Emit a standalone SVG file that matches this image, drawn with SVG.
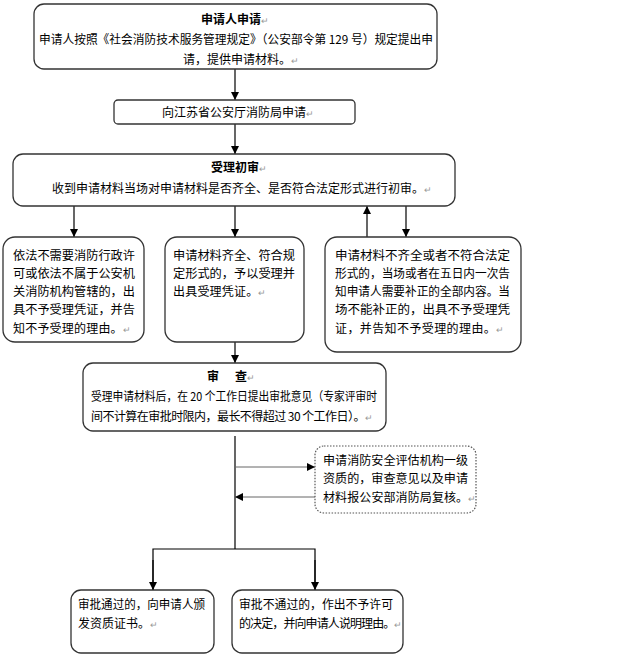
<svg xmlns="http://www.w3.org/2000/svg" width="622" height="663" viewBox="0 0 622 663">
<defs>
<marker id="ah" viewBox="0 0 10 10" refX="10" refY="5" markerWidth="8" markerHeight="8" markerUnits="userSpaceOnUse" orient="auto">
<path d="M0,0 L10,5 L0,10 z" fill="#000"/>
</marker>
</defs>
<style>
.box{fill:#fff;stroke:#333;stroke-width:1.3}
.dot{fill:#fff;stroke:#555;stroke-width:1.2;stroke-dasharray:1.5 1.5}
text{font-family:"Noto Sans CJK SC","Noto Sans",sans-serif;font-size:12px;fill:#000}
.b{font-weight:bold}
.m{fill:#999;font-size:9px}
.c{text-anchor:middle}
.ln{stroke:#000;stroke-width:1.2;fill:none}
.lg{stroke:#666;stroke-width:1;fill:none}
</style>
<rect width="622" height="663" fill="#fff"/>
<g id="connectors">
<line class="ln" x1="235" y1="69" x2="235" y2="100" marker-end="url(#ah)"/>
<line class="ln" x1="235" y1="124" x2="235" y2="154" marker-end="url(#ah)"/>
<line class="ln" x1="74" y1="206" x2="74" y2="237" marker-end="url(#ah)"/>
<line class="ln" x1="235" y1="206" x2="235" y2="237" marker-end="url(#ah)"/>
<line class="ln" x1="367" y1="237" x2="367" y2="206" marker-end="url(#ah)"/>
<line class="ln" x1="406" y1="206" x2="406" y2="237" marker-end="url(#ah)"/>
<line class="ln" x1="235" y1="342" x2="235" y2="363" marker-end="url(#ah)"/>
<line class="ln" x1="235" y1="436" x2="235" y2="549"/>
<line class="lg" x1="235" y1="467" x2="315" y2="467" marker-end="url(#ah)"/>
<line class="lg" x1="315" y1="497" x2="235" y2="497" marker-end="url(#ah)"/>
<polyline class="ln" points="153,590 153,549 315,549 315,590"/>
<line class="ln" x1="153" y1="560" x2="153" y2="590" marker-end="url(#ah)"/>
<line class="ln" x1="315" y1="560" x2="315" y2="590" marker-end="url(#ah)"/>
</g>
<g id="n1">
<rect class="box" x="34" y="4" width="403" height="65" rx="10"/>
<text x="235" y="24" class="c"><tspan class="b">申请人申请</tspan><tspan class="m">↵</tspan></text>
<text x="39" y="44" textLength="394" lengthAdjust="spacingAndGlyphs">申请人按照《社会消防技术服务管理规定》（公安部令第 129 号）规定提出申</text>
<text x="183" y="64">请，提供申请材料。<tspan class="m">↵</tspan></text>
</g>
<g id="n2">
<rect class="box" x="114" y="100" width="241" height="24" rx="4"/>
<text x="162" y="117">向江苏省公安厅消防局申请<tspan class="m">↵</tspan></text>
</g>
<g id="n3">
<rect class="box" x="13" y="154" width="442" height="52" rx="10"/>
<text x="211" y="172"><tspan class="b">受理初审</tspan><tspan class="m">↵</tspan></text>
<text x="52" y="193">收到申请材料当场对申请材料是否齐全、是否符合法定形式进行初审。<tspan class="m">↵</tspan></text>
</g>
<g id="n4">
<rect class="box" x="3" y="237" width="141" height="105" rx="12"/>
<text x="13" y="260" textLength="122" lengthAdjust="spacingAndGlyphs">依法不需要消防行政许</text>
<text x="13" y="278" textLength="122" lengthAdjust="spacingAndGlyphs">可或依法不属于公安机</text>
<text x="13" y="296" textLength="122" lengthAdjust="spacingAndGlyphs">关消防机构管辖的，出</text>
<text x="13" y="314" textLength="122" lengthAdjust="spacingAndGlyphs">具不予受理凭证，并告</text>
<text x="13" y="333" letter-spacing="0.2">知不予受理的理由。<tspan class="m">↵</tspan></text>
</g>
<g id="n5">
<rect class="box" x="165" y="237" width="139" height="105" rx="12"/>
<text x="173" y="260" textLength="122" lengthAdjust="spacingAndGlyphs">申请材料齐全、符合规</text>
<text x="173" y="278" textLength="122" lengthAdjust="spacingAndGlyphs">定形式的，予以受理并</text>
<text x="173" y="296" letter-spacing="0.2">出具受理凭证。<tspan class="m">↵</tspan></text>
</g>
<g id="n6">
<rect class="box" x="325" y="237" width="196" height="115" rx="12"/>
<text x="335" y="260" textLength="175" lengthAdjust="spacingAndGlyphs">申请材料不齐全或者不符合法定</text>
<text x="335" y="278" textLength="175" lengthAdjust="spacingAndGlyphs">形式的，当场或者在五日内一次告</text>
<text x="335" y="296" textLength="175" lengthAdjust="spacingAndGlyphs">知申请人需要补正的全部内容。当</text>
<text x="335" y="314" textLength="175" lengthAdjust="spacingAndGlyphs">场不能补正的，出具不予受理凭</text>
<text x="335" y="333" letter-spacing="0.4">证，并告知不予受理的理由。<tspan class="m">↵</tspan></text>
</g>
<g id="n7">
<rect class="box" x="83" y="363" width="303" height="68" rx="10"/>
<text x="207" y="381" class="b">审</text>
<text x="235" y="381"><tspan class="b">查</tspan><tspan class="m">↵</tspan></text>
<text x="91" y="401" textLength="286" lengthAdjust="spacingAndGlyphs">受理申请材料后，在 20 个工作日提出审批意见（专家评审时</text>
<text x="91" y="421" font-size="10.5" letter-spacing="-0.55">间不计算在审批时限内，最长不得超过 30 个工作日）。<tspan class="m" letter-spacing="0">↵</tspan></text>
</g>
<g id="n8">
<rect class="dot" x="315" y="446" width="161" height="67" rx="9"/>
<text x="323" y="465" textLength="145" lengthAdjust="spacingAndGlyphs">申请消防安全评估机构一级</text>
<text x="323" y="483" textLength="145" lengthAdjust="spacingAndGlyphs">资质的，审查意见以及申请</text>
<text x="323" y="502" letter-spacing="0.1">材料报公安部消防局复核。<tspan class="m">↵</tspan></text>
</g>
<g id="n9">
<rect class="box" x="71" y="590" width="143" height="63" rx="10"/>
<text x="78" y="609" textLength="127" lengthAdjust="spacingAndGlyphs">审批通过的，向申请人颁</text>
<text x="78" y="628">发资质证书。<tspan class="m">↵</tspan></text>
</g>
<g id="n10">
<rect class="box" x="232" y="590" width="171" height="63" rx="10"/>
<text x="239" y="609" textLength="154" lengthAdjust="spacingAndGlyphs">审批不通过的，作出不予许可</text>
<text x="239" y="628" letter-spacing="-0.9">的决定，并向申请人说明理由。<tspan class="m" letter-spacing="0">↵</tspan></text>
</g>
</svg>
